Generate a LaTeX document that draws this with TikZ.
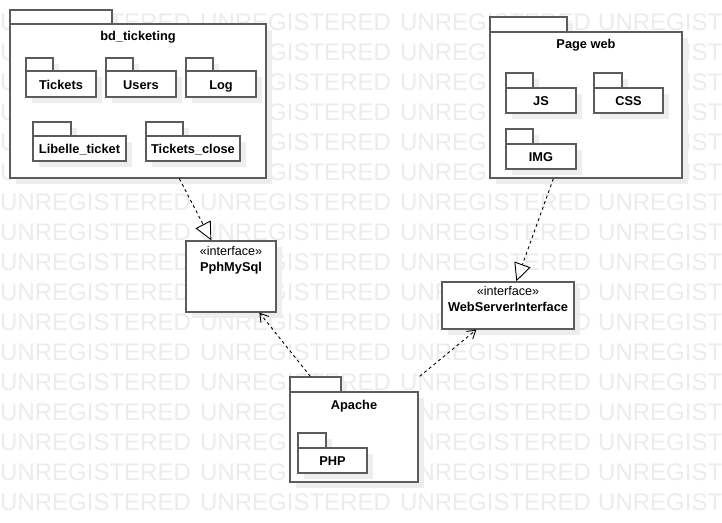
\documentclass[tikz,border=0pt]{standalone}
\usepackage{fontspec}
\setmainfont{Liberation Sans}
\usetikzlibrary{arrows.meta,fit}
\definecolor{wmc}{RGB}{236,236,236}
\definecolor{shc}{RGB}{238,238,238}
\definecolor{edgec}{RGB}{92,92,92}
\newcommand{\namefont}{\fontsize{12.8}{15}\selectfont\bfseries}
\newcommand{\stereofont}{\fontsize{12.6}{15}\selectfont}
\tikzset{
  box/.style={draw=edgec, line width=1.3pt, fill=white},
  wm/.style={font=\fontsize{24}{28}\selectfont, text=wmc, inner sep=0pt, anchor=base west},
  title/.style={font=\namefont, text=black, inner sep=0pt, anchor=base},
  stereo/.style={font=\stereofont, text=black, inner sep=0pt, anchor=base},
  realize/.style={draw=black, line width=0.9pt, dash pattern=on 3pt off 3pt,
    -{Triangle[open, fill=white, length=18pt, width=17pt]}},
  depend/.style={draw=black, line width=0.9pt, dash pattern=on 3pt off 3pt,
    -{Straight Barb[length=8pt, width=10pt]}}
}
% #1 name, #2 x1, #3 tab top, #4 tab right, #5 body top, #6 x2, #7 y2
\newcommand{\umlpkg}[7]{%
  \fill[shc] (#2+6,#3+6) rectangle (#4+6,#5+6);
  \fill[shc] (#2+6,#5+6) rectangle (#6+6,#7+6);
  \draw[box] (#2,#3) rectangle (#4,#5);
  \coordinate (#1-nw) at (#2,#5);
  \coordinate (#1-se) at (#6,#7);
  \node[box, fit=(#1-nw)(#1-se), inner sep=0pt] (#1) {};
}
% sub-package with centred label: #1 name, #2..#7 as above, #8 text
\newcommand{\umlsub}[8]{%
  \umlpkg{#1}{#2}{#3}{#4}{#5}{#6}{#7}
  \node[title] (#1-l) at ([yshift=-5pt]#1.center) {#8};
}
% #1 name, #2 x1, #3 y1, #4 x2, #5 y2
\newcommand{\umlbox}[5]{%
  \fill[shc] (#2+6,#3+6) rectangle (#4+6,#5+6);
  \coordinate (#1-nw) at (#2,#3);
  \coordinate (#1-se) at (#4,#5);
  \node[box, fit=(#1-nw)(#1-se), inner sep=0pt] (#1) {};
}
\begin{document}
\begin{tikzpicture}[x=1pt,y=-1pt]
\useasboundingbox (0,0) rectangle (722,522);
\fill[white] (0,0) rectangle (722,522);
% watermark
\begin{scope}
  \clip (0,0) rectangle (722,522);
  \foreach \r in {30,60,...,510} {
    \foreach \c in {0,200,400} {
      \node[wm] (wm-\r-\c) at (\c,\r) {UNREGISTERED};
    }
    \node[wm] (wm-\r-600) at (598,\r) {UNREGIST};
  }
\end{scope}
% bd_ticketing
\umlpkg{bd}{10}{10}{112}{24}{266}{178}
\node[title] (bdt) at ([yshift=-17.5pt]bd.north) {bd\_ticketing};
\umlsub{tk}{26}{58}{53}{71}{96}{97}{Tickets}
\umlsub{us}{106}{58}{133}{71}{176}{97}{Users}
\umlsub{lg}{186}{58}{213}{71}{256}{97}{Log}
\umlsub{lb}{33}{122}{71}{136}{126}{161}{Libelle\_ticket}
\umlsub{tc}{146}{122}{183}{136}{240}{161}{Tickets\_close}
% Page web
\umlpkg{pw}{490}{17}{567}{32}{682}{178}
\node[title] (pwt) at ([yshift=-17.5pt]pw.north) {Page web};
\umlsub{js}{506}{73}{533}{88}{576}{113}{JS}
\umlsub{css}{594}{73}{622}{88}{663}{113}{CSS}
\umlsub{img}{506}{129}{533}{144}{576}{169}{IMG}
% Apache
\umlpkg{ap}{290}{377}{341}{392}{418}{482}
\node[title] (apt) at ([yshift=-17.8pt]ap.north) {Apache};
\umlsub{php}{298}{433}{326}{448}{367}{473}{PHP}
% interfaces
\umlbox{pph}{186}{241}{276}{312}
\node[stereo] (pphs) at ([yshift=-15.5pt]pph.north) {«interface»};
\node[title] (pphn) at ([yshift=-31pt]pph.north) {PphMySql};
\umlbox{wsi}{442}{282}{574}{329}
\node[stereo] (wsis) at ([yshift=-14pt]wsi.north) {«interface»};
\node[title] (wsin) at ([yshift=-30pt]wsi.north) {WebServerInterface};
% connectors
\path (bd.south west) ++(170,0) coordinate (c1s);
\path (pph.north west) ++(26,0) coordinate (c1e);
\draw[realize] (c1s) -- (c1e);
\path (pw.south west) ++(64,0) coordinate (c2s);
\path (wsi.north west) ++(75,0) coordinate (c2e);
\draw[realize] (c2s) -- (c2e);
\path (ap.north west) ++(21,-15) coordinate (c3s);
\path (pph.south west) ++(74,0) coordinate (c3e);
\draw[depend] (c3s) -- (c3e);
\path (ap.north east) ++(1,-15) coordinate (c4s);
\path (wsi.south west) ++(35,0) coordinate (c4e);
\draw[depend] (c4s) -- (c4e);
\end{tikzpicture}
\end{document}
